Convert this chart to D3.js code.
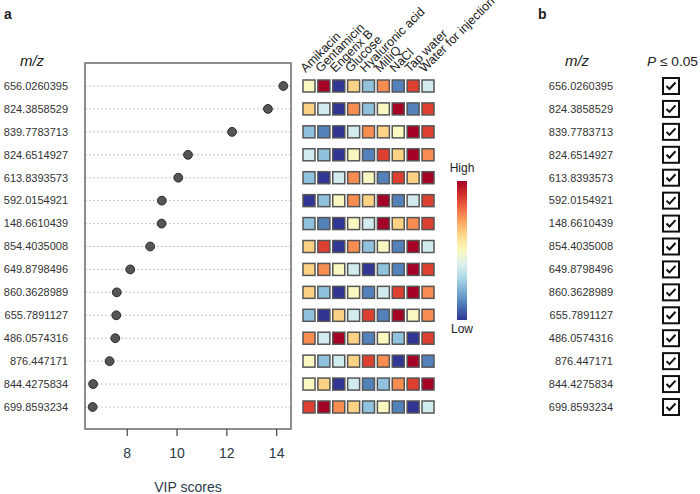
<!DOCTYPE html>
<html><head><meta charset="utf-8">
<script src="https://cdn.jsdelivr.net/npm/d3@7"></script>
<style>body{margin:0;background:#fff}svg{display:block;font-family:"Liberation Sans",Arial,sans-serif}</style>
</head><body>
<svg id="c" width="700" height="494"></svg>
<script>
const features = ["656.0260395","824.3858529","839.7783713","824.6514927","613.8393573","592.0154921","148.6610439","854.4035008","649.8798496","860.3628989","655.7891127","486.0574316","876.447171","844.4275834","699.8593234"];
const vipScores = [14.29,13.67,12.23,10.46,10.07,9.41,9.40,8.94,8.14,7.60,7.58,7.54,7.31,6.65,6.63];
const groups = ["Amikacin","Gentamicin","Engerix B","Glucose","Hyaluronic acid","MilliQ","NaCl","Tap water","Water for injection"];
// relative abundance rank (1 = low, 9 = high) per feature, in group order
const ranks = [
 [5,9,1,6,3,7,2,8,4],
 [6,4,1,7,3,5,9,2,8],
 [3,2,1,4,7,6,5,9,8],
 [4,3,1,5,2,8,6,9,7],
 [3,1,4,7,5,2,8,6,9],
 [1,3,5,7,6,9,2,4,8],
 [3,2,1,5,4,9,6,7,8],
 [6,8,1,7,3,5,2,9,4],
 [6,7,5,4,1,3,2,9,8],
 [6,3,1,5,2,4,8,9,7],
 [3,1,6,4,8,2,9,5,7],
 [7,4,9,6,2,5,3,1,8],
 [5,3,4,6,8,7,1,9,2],
 [5,6,1,4,2,3,7,8,9],
 [8,9,7,6,3,5,2,1,4]
];
const significant = [true,true,true,true,true,true,true,true,true,true,true,true,true,true,true];
const xTicks = [8,10,12,14];

const svg = d3.select("#c");
const txt = "#333";

// panel labels
svg.append("text").attr("x",4).attr("y",19).attr("font-weight","bold").attr("font-size",14).attr("fill","#222").text("a");
svg.append("text").attr("x",538).attr("y",19).attr("font-weight","bold").attr("font-size",14).attr("fill","#222").text("b");

// scales
const y = d3.scalePoint().domain(features).range([86,407]);
const xmin = d3.min(vipScores), xmax = d3.max(vipScores), pad = (xmax-xmin)*0.04;
const x = d3.scaleLinear().domain([xmin-pad, xmax+pad]).range([85,291]);

const frame = {l:85, t:63, r:291, b:429};

// grid lines
svg.append("g").selectAll("line").data(features).join("line")
  .attr("x1",frame.l).attr("x2",frame.r).attr("y1",d=>y(d)).attr("y2",d=>y(d))
  .attr("stroke","#c4c4c4").attr("stroke-width",1).attr("stroke-dasharray","2,2");

// frame
svg.append("rect").attr("x",frame.l).attr("y",frame.t).attr("width",frame.r-frame.l).attr("height",frame.b-frame.t)
  .attr("fill","none").attr("stroke","#6a6a6a").attr("stroke-width",1.5);

// x axis
const xa = svg.append("g").attr("transform",`translate(0,${frame.b})`)
  .call(d3.axisBottom(x).tickValues(xTicks).tickSize(7).tickPadding(12).tickFormat(d3.format("d")));
xa.select(".domain").remove();
xa.selectAll(".tick line").attr("stroke","#444").attr("stroke-width",1.2);
xa.selectAll(".tick text").attr("font-size",14).attr("fill","#2b3a4a").attr("font-family","Liberation Sans, Arial, sans-serif");
svg.append("text").attr("x",188).attr("y",492).attr("text-anchor","middle").attr("font-size",14).attr("fill","#2b3a4a").text("VIP scores");

// y labels panel a
svg.append("g").selectAll("text").data(features).join("text")
  .attr("x",68).attr("y",d=>y(d)).attr("dy","0.35em").attr("text-anchor","end")
  .attr("font-size",11).attr("fill",txt).text(d=>d);
svg.append("text").attr("x",32).attr("y",66).attr("text-anchor","middle").attr("font-size",15).attr("font-style","italic").attr("fill","#222").text("m/z");

// dots
svg.append("g").selectAll("circle").data(features).join("circle")
  .attr("cx",(d,i)=>x(vipScores[i])).attr("cy",d=>y(d)).attr("r",4.4)
  .attr("fill","#555").attr("stroke","#2a2a2a").attr("stroke-width",1);

// heatmap
const hx = d3.scalePoint().domain(groups).range([309,428]);
const color = r => d3.interpolateRdYlBu(1 - (r-1)/8);
const cells = [];
features.forEach((f,i)=>groups.forEach((g,j)=>cells.push({f,g,r:ranks[i][j]})));
svg.append("g").selectAll("rect").data(cells).join("rect")
  .attr("x",d=>hx(d.g)-6).attr("y",d=>y(d.f)-6).attr("width",12).attr("height",12)
  .attr("fill",d=>color(d.r)).attr("stroke","#555").attr("stroke-width",1.5);
svg.append("g").selectAll("text").data(groups).join("text")
  .attr("transform",d=>`translate(${hx(d)-3.5},73) rotate(-45)`)
  .attr("font-size",12.5).attr("fill","#222").text(d=>d);

// colour bar
const defs = svg.append("defs");
const grad = defs.append("linearGradient").attr("id","cb").attr("x1",0).attr("x2",0).attr("y1",0).attr("y2",1);
d3.range(0,1.0001,0.1).forEach(t=>grad.append("stop").attr("offset",t).attr("stop-color",d3.interpolateRdYlBu(t)));
const cb = {x:457, t:181, b:320, w:10};
svg.append("rect").attr("x",cb.x).attr("y",cb.t).attr("width",cb.w).attr("height",cb.b-cb.t).attr("fill","url(#cb)");
svg.append("text").attr("x",cb.x+cb.w/2).attr("y",172).attr("text-anchor","middle").attr("font-size",12).attr("fill","#222").text("High");
svg.append("text").attr("x",cb.x+cb.w/2).attr("y",cb.b+13).attr("text-anchor","middle").attr("font-size",12).attr("fill","#222").text("Low");

// panel b
svg.append("g").selectAll("text").data(features).join("text")
  .attr("x",613).attr("y",d=>y(d)).attr("dy","0.35em").attr("text-anchor","end")
  .attr("font-size",11).attr("fill",txt).text(d=>d);
svg.append("text").attr("x",577).attr("y",66).attr("text-anchor","middle").attr("font-size",15).attr("font-style","italic").attr("fill","#222").text("m/z");
const pt = svg.append("text").attr("x",647).attr("y",66).attr("font-size",13.5).attr("fill","#222")
  .attr("textLength",51).attr("lengthAdjust","spacingAndGlyphs");
pt.append("tspan").attr("font-style","italic").text("P");
pt.append("tspan").text(" \u2264 0.05");
const cbx = svg.append("g").selectAll("g").data(features.filter((f,i)=>significant[i])).join("g")
  .attr("transform",d=>`translate(671,${y(d)})`);
cbx.append("rect").attr("x",-8).attr("y",-8).attr("width",16).attr("height",16).attr("fill","#fff").attr("stroke","#111").attr("stroke-width",2);
cbx.append("path").attr("d","M-4.5,0 L-1.5,3 L4.5,-3.5").attr("fill","none").attr("stroke","#111").attr("stroke-width",2);
</script>
</body></html>
